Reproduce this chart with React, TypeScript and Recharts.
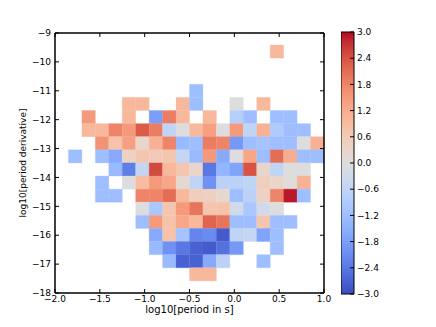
import React from 'react';
import { ScatterChart, Scatter, XAxis, YAxis, ReferenceArea, Label } from 'recharts';

const _ = null;

// bin edges (log10 period in s)
const xEdges = [-1.85, -1.7, -1.55, -1.4, -1.25, -1.1, -0.95, -0.8, -0.65, -0.5, -0.35, -0.2, -0.05, 0.1, 0.25, 0.4, 0.55, 0.7, 0.85, 1.0];
// bin edges (log10 period derivative), top to bottom
const yEdges = [-9.415, -9.869, -10.322, -10.776, -11.229, -11.683, -12.137, -12.59, -13.044, -13.497, -13.951, -14.405, -14.858, -15.312, -15.765, -16.219, -16.673, -17.126, -17.58];

const xTicks = [-2, -1.5, -1, -0.5, 0, 0.5, 1];
const yTicks = [-9, -10, -11, -12, -13, -14, -15, -16, -17, -18];
const cbarTicks = [-3, -2.4, -1.8, -1.2, -0.6, 0, 0.6, 1.2, 1.8, 2.4, 3];

// cell values, one row per y bin (top to bottom), one column per x bin
const values: (number | null)[][] = [
  [_, _, _, _, _, _, _, _, _, _, _, _, _, _, _, 1.0, _, _, _],
  [_, _, _, _, _, _, _, _, _, _, _, _, _, _, _, _, _, _, _],
  [_, _, _, _, _, _, _, _, _, _, _, _, _, _, _, _, _, _, _],
  [_, _, _, _, _, _, _, _, _, -1.2, _, _, _, _, _, _, _, _, _],
  [_, _, _, _, 1.0, 1.0, _, _, 1.0, -1.2, _, _, 0.0, _, 1.0, _, _, _, _],
  [_, 1.5, _, _, 1.0, _, -1.8, 1.9, 1.0, _, 1.0, _, -0.8, -1.2, _, -1.2, -1.2, _, _],
  [_, 1.0, 1.0, 1.8, 1.5, 2.3, 1.9, -0.6, 0.0, 1.0, 1.4, 0.0, 1.5, -0.6, 1.1, -0.9, -1.2, -1.2, _],
  [_, _, 1.6, 0.8, 1.4, 0.3, 1.1, 1.8, -1.3, -1.2, 1.9, 1.8, -1.9, -1.2, -1.1, -1.2, -1.2, 0.0, 1.1],
  [-1.2, _, -1.2, -1.6, 0.4, 0.7, 0.6, 0.7, -0.5, -1.3, 1.5, -1.6, 0.0, 1.3, -1.2, 2.1, 1.2, -1.2, -1.2],
  [_, _, _, -1.3, -2.3, -0.5, 2.5, 1.0, 0.7, 0.3, -2.4, -1.4, -1.7, 2.4, 0.3, -0.6, 0.0, 0.0, _],
  [_, _, -1.2, _, 0.0, 0.9, 1.5, 1.3, 0.2, -0.6, -2.0, -0.7, -0.7, -0.6, 0.5, 0.3, 0.05, 1.1, _],
  [_, _, -1.2, -1.2, _, 1.8, 1.8, 2.1, 1.0, 0.5, 0.45, 0.2, -1.2, -0.7, 0.4, 1.8, 2.9, -1.2, _],
  [_, _, _, _, _, 0.0, -1.0, 0.7, 1.5, 2.0, 0.7, 0.8, -0.3, -1.0, -0.3, 0.0, _, _, _],
  [_, _, _, _, _, -1.2, 1.5, 0.8, 1.3, 1.0, 2.2, 2.0, -1.2, -1.2, 0.7, -1.2, -1.2, _, _],
  [_, _, _, _, _, _, -1.6, 0.8, -1.1, -2.2, -2.1, -2.8, -0.6, -0.5, -1.7, -1.2, _, _, _],
  [_, _, _, _, _, _, -1.3, -2.0, -2.4, -2.7, -2.8, -2.5, -1.9, _, _, -1.2, _, _, _],
  [_, _, _, _, _, _, _, -1.3, -2.7, -2.7, -1.6, -0.7, _, _, -1.2, _, _, _, _],
  [_, _, _, _, _, _, _, _, _, 1.0, 1.0, _, _, _, _, _, _, _, _],
];

const vmin = -3;
const vmax = 3;

// coolwarm colormap samples
const coolwarmStops: number[][] = [
  [59, 76, 192], [68, 90, 204], [77, 104, 215], [87, 117, 225], [98, 130, 234], [108, 142, 241],
  [119, 154, 247], [130, 165, 251], [141, 176, 254], [152, 185, 255], [163, 194, 255], [174, 201, 253],
  [184, 208, 249], [194, 213, 244], [204, 217, 238], [213, 219, 230], [221, 221, 221], [229, 216, 209],
  [236, 211, 197], [241, 204, 185], [245, 196, 173], [247, 187, 160], [247, 177, 148], [247, 166, 135],
  [244, 154, 123], [241, 141, 111], [236, 127, 99], [229, 112, 88], [222, 96, 77], [213, 80, 66],
  [203, 62, 56], [192, 40, 47], [180, 4, 38],
];

function coolwarm(v: number): string {
  let t = (v - vmin) / (vmax - vmin);
  t = Math.max(0, Math.min(1, t));
  const n = coolwarmStops.length - 1;
  const p = t * n;
  const i = Math.min(n - 1, Math.floor(p));
  const f = p - i;
  const a = coolwarmStops[i];
  const b = coolwarmStops[i + 1];
  const c = a.map((ai, k) => Math.round(ai + (b[k] - ai) * f));
  return `rgb(${c[0]},${c[1]},${c[2]})`;
}

const fmt = (v: number, d: number) => v.toFixed(d).replace('-', '\u2212');

type Cell = { x: number; y: number; x1: number; x2: number; y1: number; y2: number; v: number };
const cells: Cell[] = [];
values.forEach((row, r) => {
  row.forEach((v, c) => {
    if (v === null) return;
    cells.push({
      x: (xEdges[c] + xEdges[c + 1]) / 2,
      y: (yEdges[r] + yEdges[r + 1]) / 2,
      x1: xEdges[c],
      x2: xEdges[c + 1],
      y1: yEdges[r + 1],
      y2: yEdges[r],
      v,
    });
  });
});

const FONT = 'DejaVu Sans, sans-serif';
const tickStyle = { fill: '#000', fontSize: 9, fontFamily: FONT };
const noTick = () => <g />;
const emptyShape = () => <g />;

const cbarData = [
  { x: 0, y: vmin },
  { x: 1, y: vmax },
];

export default function App() {
  return (
    <div style={{ position: 'absolute', left: 0, top: 0, width: 436, height: 327, background: '#fff' }}>
      <div style={{ position: 'absolute', left: 0, top: 0 }}>
        <ScatterChart width={436} height={327} margin={{ top: 32, right: 111, bottom: 4, left: 0 }}>
          <XAxis
            type="number"
            dataKey="x"
            domain={[-2, 1]}
            ticks={xTicks}
            interval={0}
            allowDataOverflow
            height={30}
            tickSize={-4}
            tickMargin={7}
            tick={tickStyle}
            tickFormatter={(v: number) => fmt(v, 1)}
            axisLine={{ stroke: '#000' }}
            tickLine={{ stroke: '#000' }}
          >
            <Label
              content={(p: any) => {
                const vb = p.viewBox || {};
                return (
                  <text x={vb.x + vb.width / 2} y={313} textAnchor="middle" fontSize={10} fontFamily={FONT} fill="#000">
                    log10[period in s]
                  </text>
                );
              }}
            />
          </XAxis>
          <YAxis
            type="number"
            dataKey="y"
            domain={[-18, -9]}
            ticks={yTicks}
            interval={0}
            allowDataOverflow
            width={55}
            tickSize={-4}
            tickMargin={8}
            tick={tickStyle}
            tickFormatter={(v: number) => fmt(v, 0)}
            axisLine={{ stroke: '#000' }}
            tickLine={{ stroke: '#000' }}
          >
            <Label
              content={(p: any) => {
                const vb = p.viewBox || {};
                const cy = vb.y + vb.height / 2;
                return (
                  <text
                    x={23}
                    y={cy}
                    transform={`rotate(-90, 23, ${cy})`}
                    textAnchor="middle"
                    dominantBaseline="central"
                    fontSize={9}
                    fontFamily={FONT}
                    fill="#000"
                  >
                    log10[period derivative]
                  </text>
                );
              }}
            />
          </YAxis>
          <XAxis
            xAxisId="t"
            orientation="top"
            type="number"
            dataKey="x"
            domain={[-2, 1]}
            ticks={xTicks}
            interval={0}
            allowDataOverflow
            height={1}
            tickSize={-4}
            tick={noTick}
            axisLine={{ stroke: '#000' }}
            tickLine={{ stroke: '#000' }}
          />
          <YAxis
            yAxisId="r"
            orientation="right"
            type="number"
            dataKey="y"
            domain={[-18, -9]}
            ticks={yTicks}
            interval={0}
            allowDataOverflow
            width={1}
            tickSize={-4}
            tick={noTick}
            axisLine={{ stroke: '#000' }}
            tickLine={{ stroke: '#000' }}
          />
          {cells.map((c, i) => (
            <ReferenceArea
              key={i}
              x1={c.x1}
              x2={c.x2}
              y1={c.y1}
              y2={c.y2}
              fill={coolwarm(c.v)}
              fillOpacity={1}
              stroke={coolwarm(c.v)}
              strokeWidth={0.3}
              ifOverflow="hidden"
            />
          ))}
          <ReferenceArea x1={-2} x2={1} y1={-18} y2={-9} fill="none" stroke="#000" strokeWidth={1} />
          <Scatter data={cells} shape={emptyShape} isAnimationActive={false} />
          <Scatter data={cells} xAxisId="t" yAxisId="r" shape={emptyShape} isAnimationActive={false} />
        </ScatterChart>
      </div>
      <div style={{ position: 'absolute', left: 341, top: 0 }}>
        <ScatterChart width={95} height={327} margin={{ top: 32, right: 0, bottom: 33, left: 0 }}>
          <defs>
            <linearGradient id="cwGrad" x1="0" y1="1" x2="0" y2="0">
              {coolwarmStops.map((c, i) => (
                <stop
                  key={i}
                  offset={`${(i / (coolwarmStops.length - 1)) * 100}%`}
                  stopColor={`rgb(${c[0]},${c[1]},${c[2]})`}
                />
              ))}
            </linearGradient>
          </defs>
          <XAxis type="number" dataKey="x" domain={[0, 1]} hide height={0} allowDataOverflow />
          <YAxis
            type="number"
            dataKey="y"
            orientation="right"
            domain={[vmin, vmax]}
            ticks={cbarTicks}
            interval={0}
            allowDataOverflow
            width={82}
            tickSize={-4}
            tickMargin={7}
            tick={{ ...tickStyle, textAnchor: 'start' }}
            tickFormatter={(v: number) => fmt(v, 1)}
            axisLine={false}
            tickLine={{ stroke: '#000' }}
          />
          <ReferenceArea x1={0} x2={1} y1={vmin} y2={vmax} fill="url(#cwGrad)" fillOpacity={1} stroke="#000" strokeWidth={1} />
          <Scatter data={cbarData} shape={emptyShape} isAnimationActive={false} />
        </ScatterChart>
      </div>
    </div>
  );
}
